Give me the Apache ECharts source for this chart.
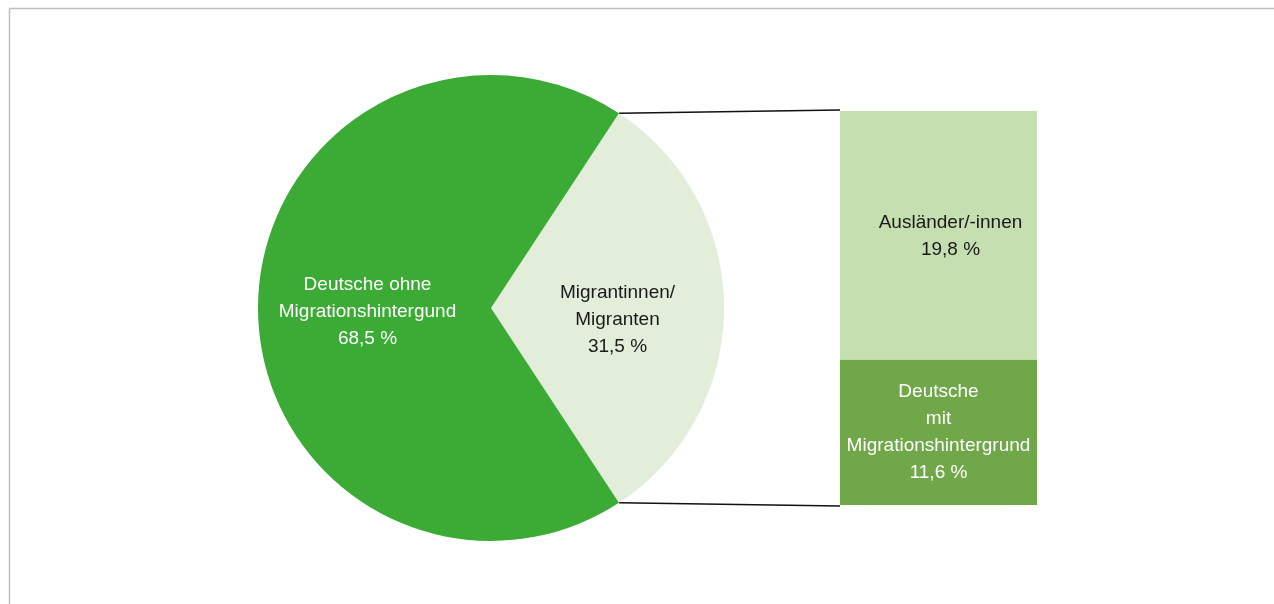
<!DOCTYPE html>
<html>
<head>
  <meta charset="UTF-8">
  <title>Migrationshintergrund</title>
  <script src="https://cdn.jsdelivr.net/npm/echarts/dist/echarts.min.js"></script>
  <style>
    html, body { margin: 0; padding: 0; background: #fff; }
    #main { width: 1274px; height: 604px; }
  </style>
</head>
<body>
  <div id="main"></div>

  <script>
    // Kreis: Gesamtbevoelkerung
    var pieNames = ['Migrantinnen/\nMigranten', 'Deutsche ohne\nMigrationshintergund'];
    var pieValues = [31.5, 68.5];
    var pieLabels = ['31,5 %', '68,5 %'];
    // Saeule: Aufteilung der Migrantinnen/Migranten
    var barNames = ['Deutsche\nmit\nMigrationshintergrund', 'Ausländer/-innen'];
    var barValues = [11.6, 19.8];
    var barLabels = ['11,6 %', '19,8 %'];

    var FONT = '"Liberation Sans", Arial, sans-serif';
    var W = 1274, H = 604;
    var pieCenter = [491, 308];
    var pieRadius = 233;
    var barGrid = { left: 840, width: 197, top: 111, bottom: 99 };
    var migShare = pieValues[0] / (pieValues[0] + pieValues[1]);
    var startAngle = migShare * 360 / 2;

    // Verbindungslinien: Kante des Kreissegments -> Ober-/Unterkante der Saeule
    var rad = startAngle * Math.PI / 180;
    var edgeX = pieCenter[0] + pieRadius * Math.cos(rad);
    var edgeDy = pieRadius * Math.sin(rad);
    var barTopY = barGrid.top;
    var barBotY = H - barGrid.bottom;

    var chartDom = document.getElementById('main');
    var myChart = echarts.init(chartDom);

    var option = {
      backgroundColor: '#ffffff',
      animation: false,
      grid: barGrid,
      xAxis: {
        type: 'category',
        data: ['Migranten'],
        show: false
      },
      yAxis: {
        type: 'value',
        min: 0,
        max: barValues[0] + barValues[1],
        show: false
      },
      graphic: [
        {
          type: 'line',
          silent: true,
          shape: { x1: 9.5, y1: 8.5, x2: W, y2: 8.5 },
          style: { stroke: '#bfbfbf', lineWidth: 1.5 }
        },
        {
          type: 'line',
          silent: true,
          shape: { x1: 9.5, y1: 8.5, x2: 9.5, y2: H },
          style: { stroke: '#bfbfbf', lineWidth: 1.5 }
        },
        {
          type: 'line',
          silent: true,
          shape: { x1: edgeX, y1: pieCenter[1] - edgeDy, x2: barGrid.left, y2: barTopY - 1 },
          style: { stroke: '#111111', lineWidth: 1.5 }
        },
        {
          type: 'line',
          silent: true,
          shape: { x1: edgeX, y1: pieCenter[1] + edgeDy, x2: barGrid.left, y2: barBotY + 1 },
          style: { stroke: '#111111', lineWidth: 1.5 }
        }
      ],
      series: [
        {
          type: 'pie',
          center: pieCenter,
          radius: pieRadius,
          startAngle: startAngle,
          clockwise: true,
          silent: true,
          label: {
            position: 'inner',
            fontFamily: FONT,
            fontSize: 19,
            lineHeight: 27,
            align: 'center',
            formatter: function (p) {
              return p.name + '\n' + pieLabels[p.dataIndex];
            }
          },
          labelLine: { show: false },
          labelLayout: function (p) {
            return p.dataIndex === 0 ? { dx: 7, dy: 12 } : { dx: -4, dy: 4 };
          },
          data: [
            { name: pieNames[0], value: pieValues[0],
              itemStyle: { color: '#e2edda' }, label: { color: '#1a1a1a' } },
            { name: pieNames[1], value: pieValues[1],
              itemStyle: { color: '#3cab35' }, label: { color: '#ffffff' } }
          ]
        },
        {
          name: barNames[0],
          type: 'bar',
          stack: 'mig',
          barWidth: '100%',
          silent: true,
          data: [barValues[0]],
          itemStyle: { color: '#70a849' },
          label: {
            show: true,
            position: 'inside',
            color: '#ffffff',
            fontFamily: FONT,
            fontSize: 19,
            lineHeight: 27,
            align: 'center',
            formatter: function () { return barNames[0] + '\n' + barLabels[0]; }
          }
        },
        {
          name: barNames[1],
          type: 'bar',
          stack: 'mig',
          barWidth: '100%',
          silent: true,
          data: [barValues[1]],
          itemStyle: { color: '#c5dfb0' },
          label: {
            show: true,
            position: 'inside',
            offset: [12, 1],
            color: '#1a1a1a',
            fontFamily: FONT,
            fontSize: 19,
            lineHeight: 27,
            align: 'center',
            formatter: function () { return barNames[1] + '\n' + barLabels[1]; }
          }
        }
      ]
    };

    myChart.setOption(option);
  </script>
</body>
</html>
